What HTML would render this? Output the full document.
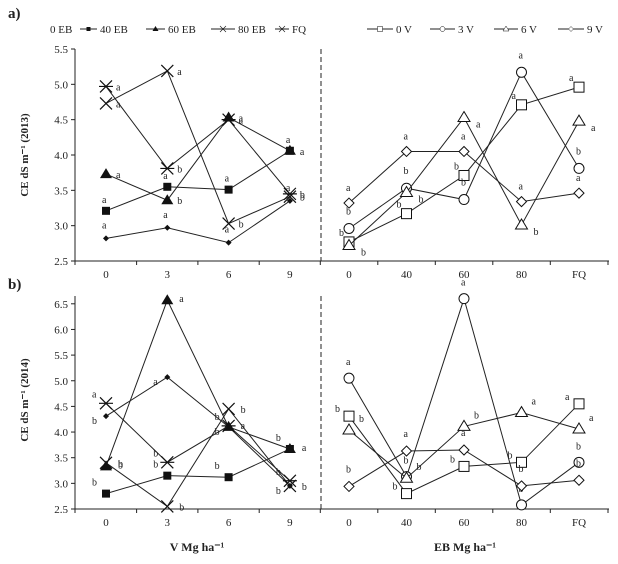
<!DOCTYPE html>
<html><head><meta charset="utf-8">
<style>
html,body{margin:0;padding:0;background:#fff;}
svg{display:block;font-family:"Liberation Serif",serif;}
</style></head>
<body>
<svg id="chart" width="618" height="564" viewBox="0 0 618 564" xmlns="http://www.w3.org/2000/svg"></svg>
<script>
// ---- data ----
const leftCats = ["0","3","6","9"];
const rightCats = ["0","40","60","80","FQ"];
const yTicksA = [2.5,3.0,3.5,4.0,4.5,5.0,5.5];
const yTicksB = [2.5,3.0,3.5,4.0,4.5,5.0,5.5,6.0,6.5];
const leftNames = ["0 EB","40 EB","60 EB","80 EB","FQ"];
const rightNames = ["0 V","3 V","6 V","9 V"];
// panel a (2013)
const a_0EB = [2.82,2.97,2.76,3.35];
const a_40EB = [3.21,3.55,3.51,4.06];
const a_60EB = [3.73,3.36,4.53,4.06];
const a_80EB = [4.73,5.19,3.03,3.41];
const a_FQ = [4.97,3.81,4.50,3.45];
const a_0V = [2.77,3.17,3.71,4.71,4.96];
const a_3V = [2.96,3.53,3.37,5.17,3.81];
const a_6V = [2.72,3.47,4.53,3.01,4.48];
const a_9V = [3.32,4.05,4.05,3.34,3.46];
// panel b (2014)
const b_0EB = [4.31,5.07,4.10,2.95];
const b_40EB = [2.80,3.15,3.12,3.67];
const b_60EB = [3.33,6.57,4.10,3.67];
const b_80EB = [3.40,2.55,4.45,2.95];
const b_FQ = [4.56,3.41,4.12,3.05];
const b_0V = [4.31,2.80,3.33,3.41,4.55];
const b_3V = [5.05,3.13,6.60,2.58,3.41];
const b_6V = [4.04,3.10,4.11,4.38,4.06];
const b_9V = [2.94,3.63,3.65,2.95,3.06];
// significance letters
const aL_0EB = ["a","a","a","a"], aL_40EB=["a","a","a","a"], aL_60EB=["a","b","a","a"], aL_80EB=["a","a","b","b"], aL_FQ=["a","b","a","b"];
const aL_0V=["b","b","b","a","a"], aL_3V=["b","b","b","a","b"], aL_6V=["b","b","a","b","a"], aL_9V=["a","a","a","a","a"];
const bL_0EB=["b","a","b","b"], bL_40EB=["b","b","b","b"], bL_60EB=["b","a","a","a"], bL_80EB=["b","b","b","b"], bL_FQ=["a","b","b","b"];
const bL_0V=["b","b","b","b","a"], bL_3V=["a","b","a","b","b"], bL_6V=["b","b","b","a","a"], bL_9V=["b","a","a","b","b"];

const NS="http://www.w3.org/2000/svg";
const svg=document.getElementById('chart');
function el(tag,attrs,parent){const e=document.createElementNS(NS,tag);for(const k in attrs)e.setAttribute(k,attrs[k]);(parent||svg).appendChild(e);return e;}
function txt(x,y,s,attrs){const t=el('text',Object.assign({x:x,y:y,'font-size':11,fill:'#222'},attrs||{}));t.textContent=s;return t;}

// axis functions
const xL = i => 106 + i*61.3;
const xR = i => 349 + i*57.5;
const yA = v => 261 - (v-2.5)*70.67;
const yB = v => 509 - (v-2.5)*51.3;

function marker(type,x,y,g){
  let m;
  if(type==='diamondF'){m=el('path',{d:`M${x} ${y-3}L${x+3} ${y}L${x} ${y+3}L${x-3} ${y}Z`,fill:'#111'},g);}
  else if(type==='squareF'){m=el('rect',{x:x-4,y:y-4,width:8,height:8,fill:'#111'},g);}
  else if(type==='triF'){m=el('path',{d:`M${x} ${y-6}L${x+6} ${y+4}L${x-6} ${y+4}Z`,fill:'#111'},g);}
  else if(type==='x'){m=el('path',{d:`M${x-6} ${y-6}L${x+6} ${y+6}M${x+6} ${y-6}L${x-6} ${y+6}`,stroke:'#111','stroke-width':1.2,fill:'none'},g);}
  else if(type==='star'){m=el('path',{d:`M${x-6} ${y-6}L${x+6} ${y+6}M${x+6} ${y-6}L${x-6} ${y+6}M${x-7} ${y}L${x+7} ${y}`,stroke:'#111','stroke-width':1.2,fill:'none'},g);}
  else if(type==='squareO'){m=el('rect',{x:x-5,y:y-5,width:10,height:10,fill:'#fff',stroke:'#111','stroke-width':1},g);}
  else if(type==='circleO'){m=el('circle',{cx:x,cy:y,r:5,fill:'#fff',stroke:'#111','stroke-width':1},g);}
  else if(type==='triO'){m=el('path',{d:`M${x} ${y-6}L${x+6} ${y+4}L${x-6} ${y+4}Z`,fill:'#fff',stroke:'#111','stroke-width':1},g);}
  else if(type==='diamondO'){m=el('path',{d:`M${x} ${y-5}L${x+5} ${y}L${x} ${y+5}L${x-5} ${y}Z`,fill:'#fff',stroke:'#111','stroke-width':1},g);}
  
  
  return m;
}

function series(name,vals,letters,xf,yf,mtype,dx,dy){
  const g=el('g',{});
  
  
  const pts=vals.map((v,i)=>xf(i)+','+yf(v)).join(' ');
  const l=el('polyline',{points:pts,fill:'none',stroke:'#222','stroke-width':1},g);
  
  
  vals.forEach((v,i)=>{
    marker(mtype,xf(i),yf(v),g);
    const t=txt(xf(i)+dx,yf(v)+dy,letters[i],{'font-size':10},g);
    g.appendChild(t);
    
    
  });
}

function axes(yf,ticks,top,bottom,panel){
  const g=el('g',{});
  
  
  el('line',{x1:75,y1:top,x2:75,y2:bottom,stroke:'#222'},g);
  el('line',{x1:75,y1:bottom,x2:609,y2:bottom,stroke:'#222'},g);
  ticks.forEach(v=>{
    el('line',{x1:71,y1:yf(v),x2:75,y2:yf(v),stroke:'#222'},g);
    const t=txt(68,yf(v)+4,v.toFixed(1),{'text-anchor':'end','font-size':11},g);g.appendChild(t);
    
    
  });
  leftCats.forEach((c,i)=>{const tx=xL(i)+30.6; if(i<3) el('line',{x1:tx,y1:bottom,x2:tx,y2:bottom+4,stroke:'#222'},g);
    const t=txt(xL(i),bottom+17,c,{'text-anchor':'middle','font-size':11},g);g.appendChild(t);
    
    });
  el('line',{x1:75,y1:bottom,x2:75,y2:bottom+4,stroke:'#222'},g);
  rightCats.forEach((c,i)=>{const tx=xR(i)-28.7; el('line',{x1:tx,y1:bottom,x2:tx,y2:bottom+4,stroke:'#222'},g);
    const t=txt(xR(i),bottom+17,c,{'text-anchor':'middle','font-size':11},g);g.appendChild(t);
    
    });
  el('line',{x1:608,y1:bottom,x2:608,y2:bottom+4,stroke:'#222'},g);
  const d=el('line',{x1:321,y1:top,x2:321,y2:bottom,stroke:'#222','stroke-dasharray':'5,3'},g);
  
  
}

axes(yA,yTicksA,49,261,'a');
axes(yB,yTicksB,296,509,'b');

// panel labels & titles
let t;
t=txt(8,18,'a)',{'font-size':15,'font-weight':'bold'});
t=txt(8,289,'b)',{'font-size':15,'font-weight':'bold'});
t=txt(0,0,'CE dS m\u207B\u00B9 (2013)',{'font-size':11,'font-weight':'bold',transform:'translate(28,155) rotate(-90)','text-anchor':'middle'});
t=txt(0,0,'CE dS m\u207B\u00B9 (2014)',{'font-size':11,'font-weight':'bold',transform:'translate(28,400) rotate(-90)','text-anchor':'middle'});
t=txt(197,551,'V Mg ha\u207B\u00B9',{'font-size':12,'font-weight':'bold','text-anchor':'middle'});
t=txt(465,551,'EB Mg ha\u207B\u00B9',{'font-size':12,'font-weight':'bold','text-anchor':'middle'});

// legend
const legL=[[null,50,'diamondF'],[80,100,'squareF'],[146,168,'triF'],[211,238,'x'],[275,292,'star']];
leftNames.forEach((n,i)=>{const g=el('g',{});
  const [lx,tx,m]=legL[i]; if(lx!==null){el('line',{x1:lx,y1:29,x2:tx-3,y2:29,stroke:'#222'},g);
  const mk=marker(m,(lx+tx-3)/2,29,g); mk.setAttribute('transform',`translate(${(lx+tx-3)/2} 29) scale(0.5) translate(${-(lx+tx-3)/2} -29)`);}
  g.appendChild(txt(tx,33,n,{'font-size':11}));});
const legR=[[367,396,'squareO'],[430,458,'circleO'],[494,521,'triO'],[558,587,'diamondO']];
rightNames.forEach((n,i)=>{const g=el('g',{});
  const [lx,tx,m]=legR[i]; el('line',{x1:lx,y1:29,x2:tx-3,y2:29,stroke:'#222'},g);
  const cx=(lx+tx-3)/2; const mk=marker(m,cx,29,g); mk.setAttribute('transform',`translate(${cx} 29) scale(0.5) translate(${-cx} -29)`);
  g.appendChild(txt(tx,33,n,{'font-size':11}));});

// series panel a
series('a-0EB',a_0EB,aL_0EB,xL,yA,'diamondF',-4,-10);
series('a-40EB',a_40EB,aL_40EB,xL,yA,'squareF',-4,-8);
series('a-60EB',a_60EB,aL_60EB,xL,yA,'triF',10,4);
series('a-80EB',a_80EB,aL_80EB,xL,yA,'x',10,4);
series('a-FQ',a_FQ,aL_FQ,xL,yA,'star',10,4);
series('a-0V',a_0V,aL_0V,xR,yA,'squareO',-10,-6);
series('a-3V',a_3V,aL_3V,xR,yA,'circleO',-3,-14);
series('a-6V',a_6V,aL_6V,xR,yA,'triO',12,10);
series('a-9V',a_9V,aL_9V,xR,yA,'diamondO',-3,-12);
// series panel b
series('b-0EB',b_0EB,bL_0EB,xL,yB,'diamondF',-14,8);
series('b-40EB',b_40EB,bL_40EB,xL,yB,'squareF',-14,-8);
series('b-60EB',b_60EB,bL_60EB,xL,yB,'triF',12,2);
series('b-80EB',b_80EB,bL_80EB,xL,yB,'x',12,4);
series('b-FQ',b_FQ,bL_FQ,xL,yB,'star',-14,-6);
series('b-0V',b_0V,bL_0V,xR,yB,'squareO',-14,-4);
series('b-3V',b_3V,bL_3V,xR,yB,'circleO',-3,-13);
series('b-6V',b_6V,bL_6V,xR,yB,'triO',10,-8);
series('b-9V',b_9V,bL_9V,xR,yB,'diamondO',-3,-14);
</script>
</body></html>
